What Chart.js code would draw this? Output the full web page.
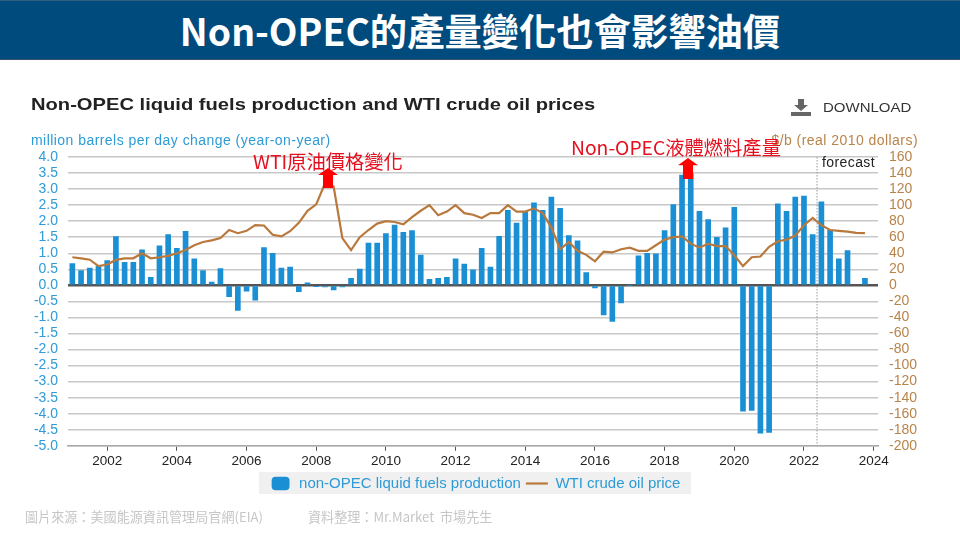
<!DOCTYPE html>
<html>
<head>
<meta charset="utf-8">
<script src="https://cdn.jsdelivr.net/npm/chart.js@4"></script>
<style>
  html, body { margin: 0; padding: 0; background: #fff; }
  #page { position: relative; width: 960px; height: 540px; overflow: hidden; font-family: "Liberation Sans", sans-serif; }
  #page canvas { position: absolute; left: 0; top: 0; }
  .txt { position: absolute; white-space: nowrap; line-height: 1; }
  #banner { position: absolute; left: 0; top: 0; width: 960px; height: 60px; background: #004b7d; border-top: 1px solid #2f5f80; border-bottom: 1px solid #33566e; box-sizing: border-box; }
  #headline { left: 0; width: 960px; top: 3px; text-align: center; color: #fff; font: bold 37.3px "Noto Sans CJK TC", sans-serif; }
  #chartTitle { left: 31px; top: 96px; font-weight: bold; font-size: 17px; color: #222; transform: scaleX(1.185); transform-origin: left; }
  #download { left: 823px; top: 102px; font-size: 12.5px; color: #333; transform: scaleX(1.2); transform-origin: left; }
  #leftTitle { left: 31px; top: 133px; font-size: 14px; color: #2e9bd6; letter-spacing: 0.45px; }
  #rightTitle { right: 42px; top: 133px; font-size: 14px; color: #b8844a; letter-spacing: 0.45px; }
  .note { color: #e60f1e; font: 19.3px "Noto Sans CJK TC", sans-serif; }
  #note1 { left: 253px; top: 147px; }
  #note2 { left: 571px; top: 133px; }
  .foot { color: #c6c6c6; font: 13.1px "Noto Sans CJK TC", sans-serif; top: 507px; }
  .arrow { position: absolute; background: #ff0000; clip-path: polygon(50% 0, 100% 35%, 75% 35%, 75% 100%, 25% 100%, 25% 35%, 0 35%); }
</style>
</head>
<body>
<div id="page">
  <canvas id="chart" width="960" height="540"></canvas>
  <div id="banner"></div>
  <div class="txt" id="headline">Non-OPEC的產量變化也會影響油價</div>
  <div class="txt" id="chartTitle">Non-OPEC liquid fuels production and WTI crude oil prices</div>
  <svg style="position:absolute;left:790px;top:99px" width="22" height="17" viewBox="0 0 22 17">
    <path d="M8 0h6v6h4l-7 6-7-6h4z M1 13h20v4H1z" fill="#666"></path>
  </svg>
  <div class="txt" id="download">DOWNLOAD</div>
  <div class="txt" id="leftTitle">million barrels per day change (year-on-year)</div>
  <div class="txt" id="rightTitle">$/b (real 2010 dollars)</div>
  <div class="txt note" id="note1">WTI原油價格變化</div>
  <div class="txt note" id="note2">Non-OPEC液體燃料產量</div>
  <div class="arrow" style="left:318px;top:168px;width:20px;height:20px"></div>
  <div class="arrow" style="left:678px;top:158px;width:20px;height:21px"></div>
  <div class="txt foot" style="left:25px">圖片來源：美國能源資訊管理局官網(EIA)</div>
  <div class="txt foot" style="left:308px">資料整理：Mr.Market&nbsp; 市場先生</div>
</div>
<script>
const quarters = [
  "2001Q1","2001Q2","2001Q3","2001Q4","2002Q1","2002Q2","2002Q3","2002Q4",
  "2003Q1","2003Q2","2003Q3","2003Q4","2004Q1","2004Q2","2004Q3","2004Q4",
  "2005Q1","2005Q2","2005Q3","2005Q4","2006Q1","2006Q2","2006Q3","2006Q4",
  "2007Q1","2007Q2","2007Q3","2007Q4","2008Q1","2008Q2","2008Q3","2008Q4",
  "2009Q1","2009Q2","2009Q3","2009Q4","2010Q1","2010Q2","2010Q3","2010Q4",
  "2011Q1","2011Q2","2011Q3","2011Q4","2012Q1","2012Q2","2012Q3","2012Q4",
  "2013Q1","2013Q2","2013Q3","2013Q4","2014Q1","2014Q2","2014Q3","2014Q4",
  "2015Q1","2015Q2","2015Q3","2015Q4","2016Q1","2016Q2","2016Q3","2016Q4",
  "2017Q1","2017Q2","2017Q3","2017Q4","2018Q1","2018Q2","2018Q3","2018Q4",
  "2019Q1","2019Q2","2019Q3","2019Q4","2020Q1","2020Q2","2020Q3","2020Q4",
  "2021Q1","2021Q2","2021Q3","2021Q4","2022Q1","2022Q2","2022Q3","2022Q4",
  "2023Q1","2023Q2","2023Q3","2023Q4","2024Q1"
];

const production = [
  0.68, 0.46, 0.54, 0.60, 0.77, 1.52, 0.72, 0.72,
  1.11, 0.25, 1.23, 1.58, 1.15, 1.68, 0.83, 0.46,
  0.10, 0.52, -0.35, -0.78, -0.18, -0.46, 1.18, 1.00,
  0.54, 0.57, -0.20, 0.08, -0.03, -0.05, -0.14, -0.05,
  0.22, 0.51, 1.32, 1.32, 1.61, 1.88, 1.65, 1.71,
  0.94, 0.19, 0.22, 0.25, 0.83, 0.66, 0.48, 1.15,
  0.57, 1.53, 2.34, 1.94, 2.30, 2.57, 2.34, 2.75,
  2.40, 1.55, 1.39, 0.40, -0.08, -0.92, -1.12, -0.55,
  0.00, 0.92, 1.00, 0.98, 1.71, 2.52, 3.44, 3.48,
  2.31, 2.05, 1.50, 1.79, 2.43, -3.92, -3.90, -4.61,
  -4.58, 2.54, 2.31, 2.75, 2.78, 1.58, 2.60, 1.72,
  0.83, 1.08, null, 0.22, null
];

const wtiPrice = [
  35, 33.7, 32, 24, 26, 31.7, 33.7, 33.7,
  40, 33.7, 35, 36.7, 40, 44, 50, 54,
  56, 59, 69, 65, 68, 75, 74.6, 63,
  61, 67.5, 78, 93, 101, 127, 123, 59,
  44, 60, 69, 77, 80, 79, 76, 85,
  93, 100, 87.5, 92, 100, 90, 88, 84,
  90, 90, 100, 92, 92, 96, 90, 72,
  45, 54, 43, 38, 30, 42, 41, 45,
  47, 43, 43, 50, 57, 60, 61, 52,
  47, 52, 49, 49, 37.5, 24, 35, 36,
  48, 55, 57, 62, 75, 84, 75, 69,
  68, 67, 65.5, 65, null
];

// between 2022Q2 and 2022Q3 on the quarter axis
const forecastStart = 85.5;
const forecastLabel = "forecast";

const BLUE = "#1a8fd3";
const BROWN = "#b9783c";
const BLUE_TEXT = "#2e9bd6";
const BROWN_TEXT = "#b8844a";

const chartDecor = {
  id: "chartDecor",
  beforeDraw(chart) {
    const { ctx, legend } = chart;
    const mid = legend.top + legend.height / 2;
    ctx.save();
    ctx.fillStyle = "#f0f0f0";
    ctx.fillRect(259, mid - 14, 432, 22);
    ctx.restore();
  },
  afterDatasetsDraw(chart) {
    const { ctx, chartArea, scales } = chart;
    const x = scales.x.getPixelForValue(forecastStart);
    ctx.save();
    ctx.strokeStyle = "#999";
    ctx.lineWidth = 1;
    ctx.setLineDash([1.5, 1.5]);
    ctx.beginPath();
    ctx.moveTo(x, chartArea.top);
    ctx.lineTo(x, chartArea.bottom);
    ctx.stroke();
    ctx.setLineDash([]);
    ctx.fillStyle = "#222";
    ctx.font = '14px "Liberation Sans"';
    ctx.letterSpacing = "0.4px";
    ctx.textBaseline = "middle";
    ctx.fillText(forecastLabel, x + 5, chartArea.top + 6);
    ctx.restore();
  }
};

new Chart(document.getElementById("chart"), {
  data: {
    labels: quarters,
    datasets: [
      {
        type: "bar",
        label: "non-OPEC liquid fuels production",
        data: production,
        backgroundColor: BLUE,
        barThickness: 5,
        yAxisID: "y",
        order: 2,
        pointStyle: "rectRounded"
      },
      {
        type: "line",
        label: "WTI crude oil price",
        data: wtiPrice,
        borderColor: BROWN,
        backgroundColor: BROWN,
        borderWidth: 2.2,
        pointRadius: 0,
        tension: 0,
        yAxisID: "y1",
        order: 1,
        pointStyle: "line"
      }
    ]
  },
  options: {
    responsive: false,
    animation: false,
    layout: { padding: { left: 30, right: 40, top: 157, bottom: 39 } },
    plugins: {
      legend: {
        position: "bottom",
        labels: {
          usePointStyle: true,
          pointStyleWidth: 22,
          boxHeight: 11,
          padding: 5,
          color: BLUE_TEXT,
          font: { family: "Liberation Sans", size: 15 },
          sort: (a, b) => a.datasetIndex - b.datasetIndex
        }
      },
      tooltip: { enabled: false }
    },
    scales: {
      x: {
        grid: {
          offset: false,
          drawOnChartArea: false,
          tickLength: 5,
          tickColor: ctx => (ctx.tick && ctx.tick.label ? "#555" : "transparent")
        },
        border: { color: "#aaa", width: 1.5 },
        ticks: {
          autoSkip: false,
          maxRotation: 0,
          padding: 2,
          color: "#222",
          font: { family: "Liberation Sans", size: 13.5 },
          callback(value) {
            const label = this.getLabelForValue(value);
            const year = parseInt(label);
            return label.endsWith("Q1") && year % 2 === 0 ? String(year) : null;
          }
        }
      },
      y: {
        position: "left",
        min: -5,
        max: 4,
        afterFit(axis) { axis.width = 38; },
        border: { display: false },
        grid: {
          drawTicks: false,
          color: ctx => (ctx.tick.value === 0 ? "#555" : "#c8c8c8"),
          lineWidth: ctx => (ctx.tick.value === 0 ? 2.5 : 1.5)
        },
        ticks: {
          autoSkip: false,
          stepSize: 0.5,
          padding: 10,
          color: BLUE_TEXT,
          font: { family: "Liberation Sans", size: 14 },
          callback: value => value.toFixed(1)
        }
      },
      y1: {
        position: "right",
        min: -200,
        max: 160,
        afterFit(axis) { axis.width = 42; },
        border: { display: false },
        grid: { drawOnChartArea: false, drawTicks: false },
        ticks: {
          autoSkip: false,
          stepSize: 20,
          padding: 11,
          crossAlign: "near",
          color: BROWN_TEXT,
          font: { family: "Liberation Sans", size: 14 }
        }
      }
    }
  },
  plugins: [chartDecor]
});
</script>
</body>
</html>
